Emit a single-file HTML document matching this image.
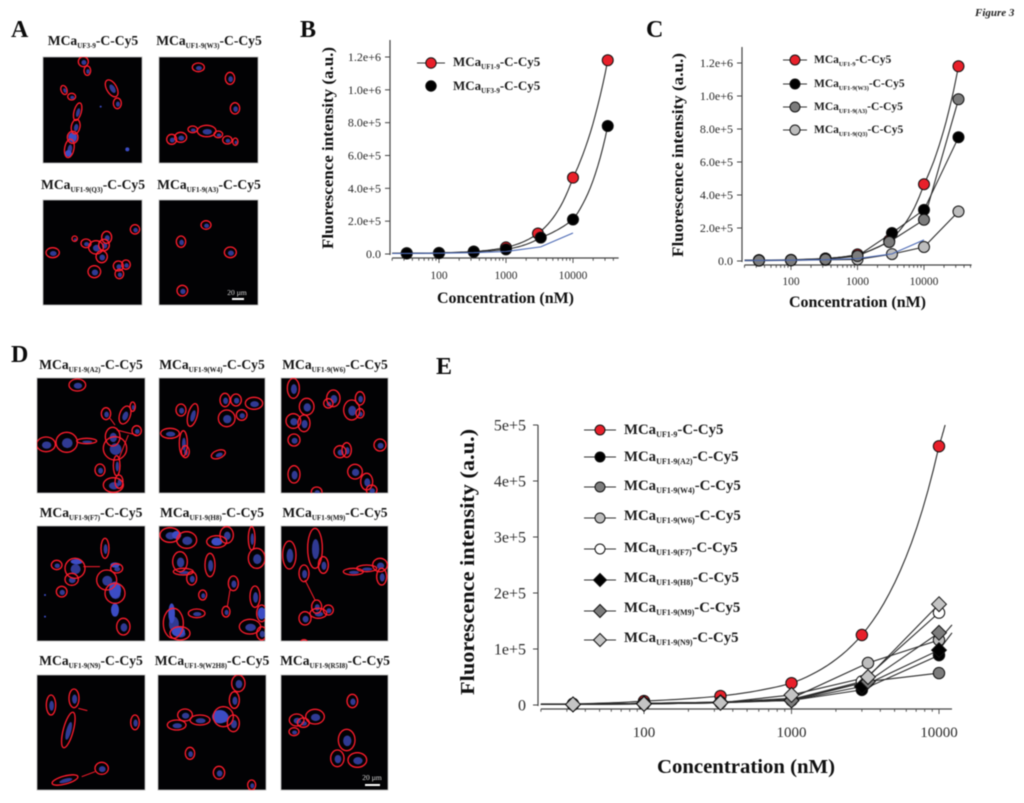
<!DOCTYPE html>
<html>
<head>
<meta charset="utf-8">
<title>Figure 3</title>
<style>
html,body{margin:0;padding:0;background:#fff;}
svg{display:block;font-family:"Liberation Serif",serif;filter:blur(0.45px);}
.letter{font-size:24px;font-weight:bold;fill:#0c0c0c;}
.ttl{font-size:13.6px;font-weight:bold;fill:#161616;text-anchor:middle;}
.ttl .s{font-size:7px;}
.leg{font-weight:bold;fill:#1c1c1c;}
.lb{font-size:13px;}.lb .s{font-size:7px;}
.lc{font-size:11.5px;}.lc .s{font-size:6.2px;}
.le{font-size:14.8px;}.le .s{font-size:8px;}
.axt{font-weight:bold;fill:#111;}
.tick{fill:#2a2a2a;}
</style>
</head>
<body>
<svg id="fig" xmlns="http://www.w3.org/2000/svg" width="1024" height="803" viewBox="0 0 1024 803">
<rect x="0" y="0" width="1024" height="803" fill="#fff"/>
<text x="975" y="16" font-size="11" font-weight="bold" font-style="italic" fill="#222">Figure 3</text>
<text class="letter" x="11" y="37">A</text>
<text class="letter" x="300" y="37">B</text>
<text class="letter" x="646" y="37">C</text>
<text class="letter" x="11" y="362">D</text>
<text class="letter" x="436" y="374">E</text>

<g id="panels"></g>

<g>
<text class="ttl" x="93" y="45">MCa<tspan class="s" dy="3">UF3-9</tspan><tspan dy="-3">-C-Cy5</tspan></text>
<text class="ttl" x="209" y="45">MCa<tspan class="s" dy="3">UF1-9(W3)</tspan><tspan dy="-3">-C-Cy5</tspan></text>
<text class="ttl" x="93" y="189">MCa<tspan class="s" dy="3">UF1-9(Q3)</tspan><tspan dy="-3">-C-Cy5</tspan></text>
<text class="ttl" x="209" y="189">MCa<tspan class="s" dy="3">UF1-9(A3)</tspan><tspan dy="-3">-C-Cy5</tspan></text>
<text class="ttl" x="91" y="369">MCa<tspan class="s" dy="3">UF1-9(A2)</tspan><tspan dy="-3">-C-Cy5</tspan></text>
<text class="ttl" x="212" y="369">MCa<tspan class="s" dy="3">UF1-9(W4)</tspan><tspan dy="-3">-C-Cy5</tspan></text>
<text class="ttl" x="335" y="369">MCa<tspan class="s" dy="3">UF1-9(W6)</tspan><tspan dy="-3">-C-Cy5</tspan></text>
<text class="ttl" x="91" y="517">MCa<tspan class="s" dy="3">UF1-9(F7)</tspan><tspan dy="-3">-C-Cy5</tspan></text>
<text class="ttl" x="212" y="517">MCa<tspan class="s" dy="3">UF1-9(H8)</tspan><tspan dy="-3">-C-Cy5</tspan></text>
<text class="ttl" x="335" y="517">MCa<tspan class="s" dy="3">UF1-9(M9)</tspan><tspan dy="-3">-C-Cy5</tspan></text>
<text class="ttl" x="91" y="665">MCa<tspan class="s" dy="3">UF1-9(N9)</tspan><tspan dy="-3">-C-Cy5</tspan></text>
<text class="ttl" x="212" y="665">MCa<tspan class="s" dy="3">UF1-9(W2H8)</tspan><tspan dy="-3">-C-Cy5</tspan></text>
<text class="ttl" x="335" y="665">MCa<tspan class="s" dy="3">UF1-9(R5I8)</tspan><tspan dy="-3">-C-Cy5</tspan></text>
</g>

<g id="chartB"></g>
<g id="chartC"></g>
<g id="chartE"></g>

<g>
<text class="axt" font-size="15.5" text-anchor="middle" transform="translate(333,148) rotate(-90)" textLength="202" lengthAdjust="spacingAndGlyphs">Fluorescence intensity (a.u.)</text>
<text class="axt" font-size="15.5" x="437" y="303" textLength="137" lengthAdjust="spacingAndGlyphs">Concentration (nM)</text>
<text class="axt" font-size="15.5" text-anchor="middle" transform="translate(683,155) rotate(-90)" textLength="204" lengthAdjust="spacingAndGlyphs">Fluorescence intensity (a.u.)</text>
<text class="axt" font-size="15.5" x="789" y="307" textLength="137" lengthAdjust="spacingAndGlyphs">Concentration (nM)</text>
<text class="axt" font-size="20.5" text-anchor="middle" transform="translate(474,562) rotate(-90)" textLength="266" lengthAdjust="spacingAndGlyphs">Fluorescence intensity (a.u.)</text>
<text class="axt" font-size="20" x="657" y="773" textLength="178" lengthAdjust="spacingAndGlyphs">Concentration (nM)</text>
</g>

<g>
<text class="leg lb" x="453" y="66">MCa<tspan class="s" dy="3">UF1-9</tspan><tspan dy="-3">-C-Cy5</tspan></text>
<text class="leg lb" x="453" y="90">MCa<tspan class="s" dy="3">UF3-9</tspan><tspan dy="-3">-C-Cy5</tspan></text>
</g>
<g>
<text class="leg lc" x="814" y="63">MCa<tspan class="s" dy="3">UF1-9</tspan><tspan dy="-3">-C-Cy5</tspan></text>
<text class="leg lc" x="814" y="87">MCa<tspan class="s" dy="3">UF1-9(W3)</tspan><tspan dy="-3">-C-Cy5</tspan></text>
<text class="leg lc" x="814" y="110">MCa<tspan class="s" dy="3">UF1-9(A3)</tspan><tspan dy="-3">-C-Cy5</tspan></text>
<text class="leg lc" x="814" y="133">MCa<tspan class="s" dy="3">UF1-9(Q3)</tspan><tspan dy="-3">-C-Cy5</tspan></text>
</g>
<g>
<text class="leg le" x="624" y="434">MCa<tspan class="s" dy="3">UF1-9</tspan><tspan dy="-3">-C-Cy5</tspan></text>
<text class="leg le" x="624" y="461">MCa<tspan class="s" dy="3">UF1-9(A2)</tspan><tspan dy="-3">-C-Cy5</tspan></text>
<text class="leg le" x="624" y="490">MCa<tspan class="s" dy="3">UF1-9(W4)</tspan><tspan dy="-3">-C-Cy5</tspan></text>
<text class="leg le" x="624" y="520">MCa<tspan class="s" dy="3">UF1-9(W6)</tspan><tspan dy="-3">-C-Cy5</tspan></text>
<text class="leg le" x="624" y="552">MCa<tspan class="s" dy="3">UF1-9(F7)</tspan><tspan dy="-3">-C-Cy5</tspan></text>
<text class="leg le" x="624" y="582">MCa<tspan class="s" dy="3">UF1-9(H8)</tspan><tspan dy="-3">-C-Cy5</tspan></text>
<text class="leg le" x="624" y="612">MCa<tspan class="s" dy="3">UF1-9(M9)</tspan><tspan dy="-3">-C-Cy5</tspan></text>
<text class="leg le" x="624" y="642">MCa<tspan class="s" dy="3">UF1-9(N9)</tspan><tspan dy="-3">-C-Cy5</tspan></text>
</g>

<g>
<text x="237" y="295" font-size="7.5" fill="#ddd" text-anchor="middle">20 µm</text>
<rect x="232" y="298" width="12" height="2" fill="#fff"/>
</g>
<g id="overlay"></g>

<script>
// ---------- Chart data ----------
var concB1 = [33, 100, 330, 1000, 3000, 10000, 33000];
var concB2 = [33, 100, 330, 1000, 3300, 10000, 33000];
var valsB_UF19 = [5000, 7000, 15000, 40000, 125000, 465000, 1180000];
var valsB_UF39 = [3000, 5000, 13000, 28000, 100000, 210000, 780000];
var concBlue = [20, 33, 100, 330, 1000, 3300, 10000];
var valsBlue = [3000, 3500, 5000, 8000, 15000, 43000, 128000];
var yTicksBC = [0, 200000, 400000, 600000, 800000, 1000000, 1200000];
var yLabelsBC = ["0.0", "2.0e+5", "4.0e+5", "6.0e+5", "8.0e+5", "1.0e+6", "1.2e+6"];
var xTicksMajor = [100, 1000, 10000];
var xLabels = ["100", "1000", "10000"];

var concC1 = [33, 100, 330, 1000, 3000, 10000, 33000];
var concC2 = [33, 100, 330, 1000, 3300, 10000, 33000];
var valsC_UF19 = [5000, 7000, 15000, 40000, 125000, 465000, 1180000];
var valsC_W3 = [5000, 7000, 15000, 30000, 170000, 310000, 750000];
var valsC_A3 = [3000, 5000, 10000, 30000, 115000, 250000, 980000];
var valsC_Q3 = [2000, 4000, 7000, 10000, 42000, 85000, 300000];

var concE1 = [33, 100, 330, 1000, 3000, 10000];
var concE2 = [33, 100, 330, 1000, 3300, 10000];
var valsE_UF19 = [2000, 7000, 16000, 39000, 125000, 462000];
var valsE_A2 = [1000, 3000, 5000, 8000, 27000, 89000];
var valsE_W4 = [1000, 2000, 4000, 10000, 42000, 57000];
var valsE_W6 = [1000, 3000, 5000, 12000, 75000, 116000];
var valsE_F7 = [1000, 2000, 4000, 10000, 42000, 165000];
var valsE_H8 = [1000, 3000, 5000, 8000, 33000, 98000];
var valsE_M9 = [1000, 2000, 4000, 8000, 42000, 129000];
var valsE_N9 = [1000, 2000, 4000, 18000, 50000, 180000];
var yTicksE = [0, 100000, 200000, 300000, 400000, 500000];
var yLabelsE = ["0", "1e+5", "2e+5", "3e+5", "4e+5", "5e+5"];

// ---------- Helpers ----------
var NS = "http://www.w3.org/2000/svg";
function mk(parent, tag, attrs) {
  var el = document.createElementNS(NS, tag);
  for (var k in attrs) { el.setAttribute(k, attrs[k]); }
  parent.appendChild(el);
  return el;
}
function xScale(ch, c) { return ch.x100 + ch.decade * (Math.log10(c) - 2); }
function yScale(ch, v) { return ch.y0 - v * ch.yPer; }

function drawAxes(ch, g, yTicks, yLabels) {
  var axisColor = "#444";
  var yAxis = mk(g, "line", {x1: ch.axX, x2: ch.axX, y1: ch.axTop, y2: ch.y0 + 1, stroke: axisColor, "stroke-width": 1.2});
  
  
  var xAxis = mk(g, "line", {x1: xScale(ch, ch.xMin), x2: xScale(ch, ch.xMax), y1: ch.axY, y2: ch.axY, stroke: axisColor, "stroke-width": 1.2});
  
  
  yTicks.forEach(function (v, i) {
    var y = yScale(ch, v);
    var t = mk(g, "line", {x1: ch.axX - ch.tickLen, x2: ch.axX, y1: y, y2: y, stroke: axisColor, "stroke-width": 1});
    
    
    var l = mk(g, "text", {x: ch.yLabelX, y: y + ch.font * 0.33, "text-anchor": "end", "font-size": ch.font, "class": "tick"});
    
    
    l.textContent = yLabels[i];
  });
  for (var d = 1; d <= 4; d++) {
    for (var m = 1; m < 10; m++) {
      var c = m * Math.pow(10, d);
      if (c < ch.xMin || c > ch.xMax) continue;
      var x = xScale(ch, c);
      var major = m === 1;
      var mt = mk(g, "line", {x1: x, x2: x, y1: ch.axY, y2: ch.axY + (major ? ch.tickLen : ch.tickLen * 0.55), stroke: axisColor, "stroke-width": 0.9});
      
      
    }
  }
  xTicksMajor.forEach(function (c, i) {
    var l = mk(g, "text", {x: xScale(ch, c), y: ch.xLabelY, "text-anchor": "middle", "font-size": ch.font - (ch.font > 13 ? 1 : 0.5), "class": "tick"});
    
    
    l.textContent = xLabels[i];
  });
}

function curvePoints(ch, s) {
  var cs = s.conc.slice(), vs = s.vals.slice();
  if (s.lead !== false) { cs.unshift(ch.xMin); vs.unshift(s.vals[0]); }
  if (s.tail) { cs.push(s.tail[0]); vs.push(s.tail[1]); }
  var pts = [];
  var steps = s.straight ? 1 : 14;
  for (var i = 0; i < cs.length - 1; i++) {
    for (var k = 0; k <= steps; k++) {
      var t = k / steps;
      var lc = Math.log10(cs[i]) + t * (Math.log10(cs[i + 1]) - Math.log10(cs[i]));
      var v = vs[i] * Math.pow(vs[i + 1] / vs[i], t);
      pts.push(xScale(ch, Math.pow(10, lc)).toFixed(1) + "," + yScale(ch, v).toFixed(1));
    }
  }
  return pts.join(" ");
}

function drawMarker(g, shape, x, y, r, fill) {
  var el;
  if (shape === "diamond") {
    var h = r * 1.3;
    el = mk(g, "polygon", {points: x + "," + (y - h) + " " + (x + h) + "," + y + " " + x + "," + (y + h) + " " + (x - h) + "," + y, fill: fill, stroke: "#111", "stroke-width": 1});
  } else {
    el = mk(g, "circle", {cx: x, cy: y, r: r, fill: fill, stroke: "#111", "stroke-width": 1});
  }
  return el;
}

function drawSeries(ch, g, s) {
  var line = mk(g, "polyline", {points: curvePoints(ch, s), fill: "none", stroke: "#2a2a2a", "stroke-width": 1.1});
  
  
}
function drawSeriesMarkers(ch, g, s) {
  s.conc.forEach(function (c, i) {
    var mark = drawMarker(g, s.shape, xScale(ch, c), yScale(ch, s.vals[i]), ch.r, s.fill);
    
    
  });
}
function drawBlue(ch, g) {
  var pts = concBlue.map(function (c, i) { return xScale(ch, c).toFixed(1) + "," + yScale(ch, valsBlue[i]).toFixed(1); }).join(" ");
  var b = mk(g, "polyline", {points: pts, fill: "none", stroke: "#4a68b4", "stroke-width": 1.1});
  
  
}
function drawLegend(g, items, x, half, r) {
  items.forEach(function (it) {
    if (it.line !== false) {
      var ln = mk(g, "line", {x1: x - half, x2: x + half, y1: it.y, y2: it.y, stroke: "#333", "stroke-width": 1.1});
      
      
    }
    var m = drawMarker(g, it.shape, x, it.y, r, it.fill);
    
    
  });
}

// ---------- Chart B ----------
var chB = {x100: 439, decade: 67, y0: 254, yPer: 197 / 1200000, axX: 390, axTop: 40, axY: 258, xMin: 20, xMax: 48000, tickLen: 5, yLabelX: 381, xLabelY: 279, font: 12, r: 5.5};
var gB = document.getElementById("chartB");
drawAxes(chB, gB, yTicksBC, yLabelsBC);
var seriesB = [
  {name: "uf1-9", conc: concB1, vals: valsB_UF19, fill: "#e8202a", shape: "circle"},
  {name: "uf3-9", conc: concB2, vals: valsB_UF39, fill: "#000", shape: "circle"}
];
seriesB.forEach(function (s) { drawSeries(chB, gB, s); });
seriesB.forEach(function (s) { drawSeriesMarkers(chB, gB, s); });
drawBlue(chB, gB);
drawLegend(gB, [{y: 63, fill: "#e8202a", shape: "circle"}, {y: 86, fill: "#000", shape: "circle", line: false}], 431, 14, 5.2);

// ---------- Chart C ----------
var chC = {x100: 791, decade: 66.5, y0: 261, yPer: 198 / 1200000, axX: 742, axTop: 47, axY: 265, xMin: 20, xMax: 52000, tickLen: 5, yLabelX: 733, xLabelY: 285, font: 12, r: 5.5};
var gC = document.getElementById("chartC");
drawAxes(chC, gC, yTicksBC, yLabelsBC);
var seriesC = [
  {name: "uf1-9", conc: concC1, vals: valsC_UF19, fill: "#e8202a", shape: "circle"},
  {name: "w3", conc: concC2, vals: valsC_W3, fill: "#000", shape: "circle", straight: true},
  {name: "q3", conc: concC2, vals: valsC_Q3, fill: "#bdbdbd", shape: "circle", straight: true},
  {name: "a3", conc: concC1, vals: valsC_A3, fill: "#7c7c7c", shape: "circle", straight: true}
];
seriesC.forEach(function (s) { drawSeries(chC, gC, s); });
seriesC.forEach(function (s) { drawSeriesMarkers(chC, gC, s); });
drawBlue(chC, gC);
drawLegend(gC, [{y: 60, fill: "#e8202a", shape: "circle"}, {y: 84, fill: "#000", shape: "circle"}, {y: 107, fill: "#7c7c7c", shape: "circle"}, {y: 130, fill: "#bdbdbd", shape: "circle"}], 795, 12, 5);

// ---------- Chart E ----------
var chE = {x100: 644, decade: 147.5, y0: 705, yPer: 56 / 100000, axX: 538, axTop: 425, axY: 709, xMin: 20, xMax: 12250, tickLen: 5, yLabelX: 526, xLabelY: 737, font: 16, r: 5.7};
var gE = document.getElementById("chartE");
drawAxes(chE, gE, yTicksE, yLabelsE);
var seriesE = [
  {name: "uf1-9", conc: concE1, vals: valsE_UF19, fill: "#e8202a", shape: "circle", tail: [11000, 500000]},
  {name: "a2", conc: concE1, vals: valsE_A2, fill: "#000", shape: "circle", straight: true},
  {name: "w4", conc: concE2, vals: valsE_W4, fill: "#7c7c7c", shape: "circle", straight: true},
  {name: "w6", conc: concE2, vals: valsE_W6, fill: "#bdbdbd", shape: "circle", straight: true, tail: [12250, 143000]},
  {name: "f7", conc: concE1, vals: valsE_F7, fill: "#fff", shape: "circle", straight: true},
  {name: "h8", conc: concE1, vals: valsE_H8, fill: "#000", shape: "diamond", straight: true, tail: [12250, 129000]},
  {name: "m9", conc: concE2, vals: valsE_M9, fill: "#7c7c7c", shape: "diamond", straight: true},
  {name: "n9", conc: concE2, vals: valsE_N9, fill: "#c4c4c4", shape: "diamond", straight: true}
];
seriesE.forEach(function (s) { drawSeries(chE, gE, s); });
seriesE.forEach(function (s) { drawSeriesMarkers(chE, gE, s); });
drawLegend(gE, [
  {y: 430, fill: "#e8202a", shape: "circle"}, {y: 457, fill: "#000", shape: "circle"},
  {y: 487, fill: "#7c7c7c", shape: "circle"}, {y: 518, fill: "#bdbdbd", shape: "circle"},
  {y: 549, fill: "#fff", shape: "circle"}, {y: 580, fill: "#000", shape: "diamond"},
  {y: 611, fill: "#7c7c7c", shape: "diamond"}, {y: 640, fill: "#c4c4c4", shape: "diamond"}
], 600, 16, 5);

// ---------- Microscopy panels (cell sketches, coordinates at 3x around an origin) ----------
var panelDefs = [
 {n:"a-uf3-9",x:43,y:57,w:99,h:106,ox:0,oy:0,c:[[250,185,15,15],[262,212,10,14],[192,270,9,14,-20],[215,290,12,10],[335,265,15,28,-30],[352,310,12,16],[233,335,11,27,15],[227,380,13,22,10],[218,412,16,18],[208,445,14,28,10]],b:[[218,412,13,15],[205,460,10,10],[382,448,6,6],[302,320,3,3]],l:[]},
 {n:"a-w3",x:159,y:57,w:99,h:106,ox:0,oy:0,c:[[595,202,18,13],[690,235,14,18],[705,325,14,17],[515,418,15,15],[542,412,18,15],[578,388,14,10],[620,393,28,17],[655,403,13,10],[682,420,14,12],[706,425,8,11]],b:[],l:[]},
 {n:"a-q3",x:43,y:200,w:99,h:105,ox:0,oy:0,c:[[158,758,20,15],[224,716,8,8],[258,730,15,13],[320,712,15,18],[288,742,22,20],[312,735,16,17],[305,770,17,18],[283,815,19,18],[355,798,15,15],[378,794,13,14],[358,822,13,14],[405,688,14,14]],b:[],l:[]},
 {n:"a-a3",x:159,y:200,w:99,h:105,ox:0,oy:0,c:[[618,675,15,13],[543,725,14,17],[691,757,18,16],[547,872,16,16]],b:[],l:[]},
 {n:"d-a2",x:37,y:378,w:108,h:115,ox:0,oy:335,c:[[232,150,25,18],[318,236,14,18],[375,240,16,28,20],[398,215,8,14],[410,287,14,15],[138,328,28,22],[200,322,32,30],[260,318,30,8],[338,305,22,28],[345,340,35,35],[350,392,10,30],[300,405,15,18],[340,450,30,22],[357,440,12,20]],b:[],l:[[350,285,410,300],[385,300,355,375],[345,270,330,250]]},
 {n:"d-w4",x:159,y:378,w:106,h:115,ox:0,oy:335,c:[[543,225,15,18],[578,240,14,35,15],[510,295,28,15],[550,325,12,38],[556,350,12,18],[655,358,22,12,-20],[675,195,15,20],[708,195,16,18],[762,205,26,18],[725,240,16,16],[680,250,25,25]],b:[],l:[]},
 {n:"d-w6",x:281,y:378,w:107,h:115,ox:0,oy:335,c:[[880,160,18,30],[920,215,22,25],[880,258,22,22],[912,265,18,25],[882,315,18,18],[1000,190,20,25],[985,205,14,14],[1080,190,14,20],[1055,225,24,30],[1080,235,12,14],[1140,330,18,18],[1020,350,18,18],[1040,345,14,22],[1065,410,22,22],[1100,440,18,25],[882,418,18,26],[950,470,16,14],[1115,465,16,15]],b:[],l:[]},
 {n:"d-f7",x:37,y:526,w:108,h:115,ox:0,oy:570,c:[[170,-15,16,14],[225,-5,30,30],[315,-65,12,30],[350,-5,18,14],[215,28,20,18],[185,65,16,16],[320,30,30,30],[345,70,30,30],[370,170,20,25]],b:[[345,60,18,25],[345,-15,14,8],[230,-25,18,8],[135,75,3,3],[135,140,3,3],[345,120,12,20]],l:[[250,-10,300,-10]]},
 {n:"d-h8",x:159,y:526,w:106,h:115,ox:0,oy:570,c:[[510,-105,30,22],[560,-90,30,25],[650,-85,30,18],[680,-105,20,25],[540,-25,22,30],[630,-15,15,35],[755,-95,10,35],[770,-35,25,30],[550,5,30,10],[575,25,15,20],[700,40,15,22],[608,75,12,15],[678,125,12,16],[765,80,15,32],[785,130,15,25],[750,170,32,22],[785,190,15,20],[520,160,30,45],[590,130,25,13],[540,190,30,20]],b:[[515,130,10,30],[535,185,20,15],[785,130,12,18],[650,-85,16,12],[530,-105,14,12]],l:[[690,60,682,110]]},
 {n:"d-m9",x:281,y:526,w:107,h:115,ox:0,oy:570,c:[[868,-45,20,42],[945,-65,22,60],[970,-15,15,25],[1140,-15,22,20],[1060,5,30,10],[912,10,15,25],[950,110,15,20],[915,145,18,20],[955,130,25,15],[985,120,15,15],[1145,20,15,25],[1100,-5,30,10],[912,215,10,6]],b:[],l:[[915,30,945,90]]},
 {n:"d-n9",x:37,y:675,w:108,h:115,ox:0,oy:570,c:[[153,405,14,30],[222,385,15,28],[205,480,15,55,15],[405,457,13,22],[195,630,40,12,-15],[305,595,20,18]],b:[],l:[[245,620,285,605],[235,415,262,422]]},
 {n:"d-w2h8",x:158,y:675,w:108,h:115,ox:0,oy:570,c:[[555,435,22,18],[530,465,28,15],[600,450,30,15],[670,440,30,30],[700,460,18,25],[703,390,15,25],[715,340,20,25],[570,550,14,18],[657,608,17,19],[755,645,12,15]],b:[[660,440,24,20]],l:[]},
 {n:"d-r5i8",x:281,y:675,w:107,h:115,ox:0,oy:570,c:[[1057,393,16,20],[890,450,22,18],[910,458,18,14],[945,440,28,22],[882,485,15,12],[1040,510,25,32],[1012,565,20,25],[1072,570,28,22]],b:[],l:[]}
];
var pg = document.getElementById("panels");
var defs = mk(pg, "defs", {});
panelDefs.forEach(function (p, idx) {
  var id = "clip" + idx;
  var cp = mk(defs, "clipPath", {id: id});
  mk(cp, "rect", {x: p.x, y: p.y, width: p.w, height: p.h});
  var frame = mk(pg, "rect", {x: p.x, y: p.y, width: p.w, height: p.h, fill: "#020204", stroke: "#bbb", "stroke-width": 0.8});
  
  
  var cg = mk(pg, "g", {"clip-path": "url(#" + id + ")"});
  
  
  function ax(v) { return p.ox + v / 3; }
  function ay(v) { return p.oy + v / 3; }
  p.c.forEach(function (e) {
    var tr = "rotate(" + (e[4] || 0) + " " + ax(e[0]) + " " + ay(e[1]) + ")";
    var nuc = mk(cg, "ellipse", {cx: ax(e[0]) + 0.6, cy: ay(e[1]) + 0.8, rx: e[2] / 3 * 0.5, ry: e[3] / 3 * 0.5, fill: "#3c48b8", "fill-opacity": 0.8, transform: tr});
    
    
  });
  p.b.forEach(function (e) {
    var bl = mk(cg, "ellipse", {cx: ax(e[0]), cy: ay(e[1]), rx: e[2] / 3, ry: e[3] / 3, fill: "#3c4cc4"});
    
    
  });
  p.l.forEach(function (e) {
    var fil = mk(cg, "line", {x1: ax(e[0]), y1: ay(e[1]), x2: ax(e[2]), y2: ay(e[3]), stroke: "#ff1c2c", "stroke-width": 1});
    
    
  });
  p.c.forEach(function (e) {
    var tr = "rotate(" + (e[4] || 0) + " " + ax(e[0]) + " " + ay(e[1]) + ")";
    var out = mk(cg, "ellipse", {cx: ax(e[0]), cy: ay(e[1]), rx: e[2] / 3, ry: e[3] / 3, fill: "none", stroke: "#ff1c2c", "stroke-width": 1.3, transform: tr});
    
    
  });
});

// scale bar in the last micrograph sits above the panel layer
var ov = document.getElementById("overlay");


var sb = mk(ov, "rect", {x: 365, y: 784, width: 15, height: 2, fill: "#fff"});


var st = mk(ov, "text", {x: 372, y: 780, "font-size": 7.5, fill: "#ddd", "text-anchor": "middle"});


st.textContent = "20 µm";
</script>
</svg>
</body>
</html>
